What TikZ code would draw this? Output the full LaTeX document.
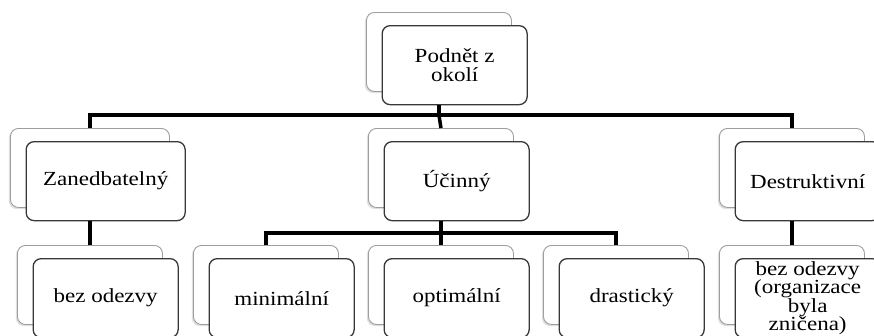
\documentclass[tikz,border=0pt]{standalone}
\usepackage{fontspec}
\setmainfont{Liberation Serif}[FakeStretch=1.15]
\usetikzlibrary{shadows}
\newcommand\lblfont{\fontsize{20}{18.5}\selectfont\lineskiplimit -40pt\relax\lineskip 0pt\relax}
\newcommand\pairbox[5]{%
  \node[backbox, minimum width=#5pt] (#1b) at (#2,#3) {};
  \node[frontbox, minimum width=#5pt] (#1f) at (#2+15.5,#3+13) {#4};}
\begin{document}
\begin{tikzpicture}[x=1pt,y=-1pt,
  box/.style={rounded corners=8pt, minimum height=79pt, inner sep=0pt,
    anchor=north west, fill=white},
  backbox/.style={box, draw=black!38, line width=0.9pt,
    drop shadow={shadow xshift=-1.6pt, shadow yshift=-1.6pt, opacity=0.25}},
  frontbox/.style={box, draw=black!78, line width=1.3pt, align=center,
    font=\lblfont},
  conn/.style={line width=3.5pt, black}]
\clip (0,0) rectangle (874,335);
\fill[white] (0,0) rectangle (874,335);
% level 1
\pairbox{top}{366}{12}{Podnět z\\okolí}{145}
% level 2
\pairbox{zan}{10}{128}{Zanedbatelný}{159}
\pairbox{uci}{368}{128}{Účinný}{145}
\pairbox{des}{719}{128}{Destruktivní}{145}
% level 3
\pairbox{boa}{17}{245}{bez odezvy}{145}
\pairbox{min}{193}{245}{minimální}{145}
\pairbox{opt}{368}{245}{optimální}{145}
\pairbox{dra}{543}{245}{drastický}{145}
\pairbox{bob}{719}{245}{bez odezvy\\(organizace\\byla\\zničena)}{145}
% connectors
\coordinate (j1) at (topb.south |- 0,115);
\coordinate (j2) at (ucib.south |- 0,233);
\draw[conn] (topf.south -| topb.south) -- (j1);
\draw[conn] (zanb.north) |- (j1) -| (desb.north);
\draw[conn] (j1) -- (ucib.north);
\draw[conn] (zanf.south -| zanb.south) -- (boab.north);
\draw[conn] (desf.south -| desb.south) -- (bobb.north);
\draw[conn] (ucif.south -| ucib.south) -- (j2);
\draw[conn] (minb.north) |- (j2) -| (drab.north);
\draw[conn] (j2) -- (optb.north);
\end{tikzpicture}
\end{document}
